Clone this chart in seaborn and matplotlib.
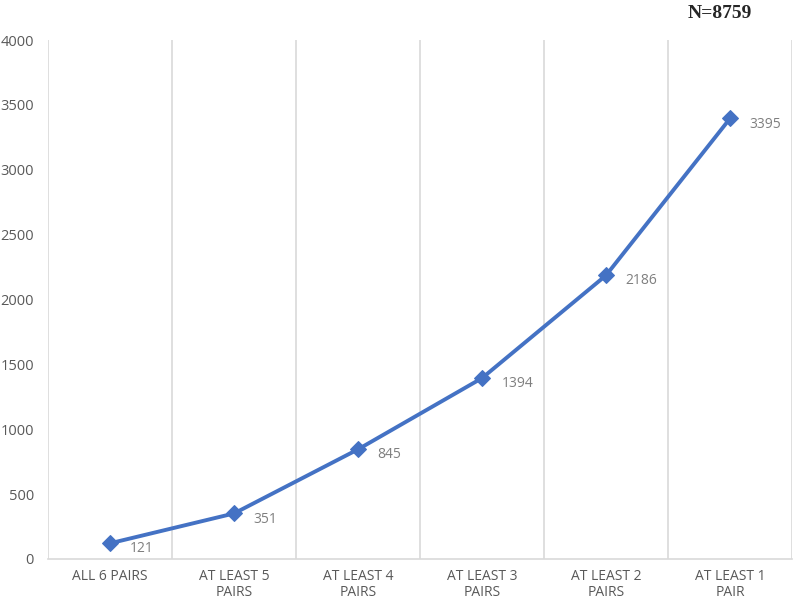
import matplotlib
matplotlib.use("Agg")
import matplotlib.pyplot as plt
import seaborn as sns
import pandas as pd
from matplotlib.ticker import FixedLocator

categories = ["ALL 6 PAIRS", "AT LEAST 5\nPAIRS", "AT LEAST 4\nPAIRS",
              "AT LEAST 3\nPAIRS", "AT LEAST 2\nPAIRS", "AT LEAST 1\nPAIR"]
values = [121, 351, 845, 1394, 2186, 3395]
yticks = [0, 500, 1000, 1500, 2000, 2500, 3000, 3500, 4000]
title_text = "N=8759"

sns.set_theme(style="white")
plt.rcParams['font.family'] = ['Open Sans', 'DejaVu Sans']

df = pd.DataFrame({"cat": categories, "val": values})
fig = plt.figure(figsize=(7.94, 6.01), dpi=100)
ax = fig.add_axes([48/794, 1-559/601, (792-48)/794, (559-40)/601])

sns.lineplot(data=df, x="cat", y="val", ax=ax, color="#4472C4", linewidth=2.8,
             marker="D", markersize=8, markeredgecolor="#4472C4", sort=False)

ax.set_xlim(-0.5, len(categories) - 0.5)
ax.set_ylim(0, 4000)
ax.set_yticks(yticks)
ax.set_yticklabels([str(t) for t in yticks])
ax.set_xlabel("")
ax.set_ylabel("")

ax.xaxis.set_minor_locator(FixedLocator([i - 0.5 for i in range(len(categories) + 1)]))
ax.grid(which="minor", axis="x", color="#D9D9D9", linewidth=1.2)
ax.grid(which="major", axis="both", visible=False)
ax.tick_params(axis="both", which="both", length=0)
ax.tick_params(axis="x", colors="#595959", labelsize=10, pad=7)
ax.tick_params(axis="y", colors="#595959", labelsize=10.5, pad=10)
for lbl in ax.get_xticklabels():
    lbl.set_linespacing(1.1)

for s in ["top", "right", "left"]:
    ax.spines[s].set_visible(False)
ax.spines["bottom"].set_color("#D9D9D9")
ax.spines["bottom"].set_linewidth(1.2)

for i, v in enumerate(values):
    ax.annotate(str(v), (i, v), xytext=(14, -4), textcoords="offset points",
                ha="left", va="center", color="#7F7F7F", fontsize=10)

fig.text(720/794, 1-13/601, title_text, ha="center", va="center",
         fontsize=14, fontweight="bold", family=["Liberation Serif", "DejaVu Serif"])

fig.savefig("out.png", dpi=100, facecolor="white")
